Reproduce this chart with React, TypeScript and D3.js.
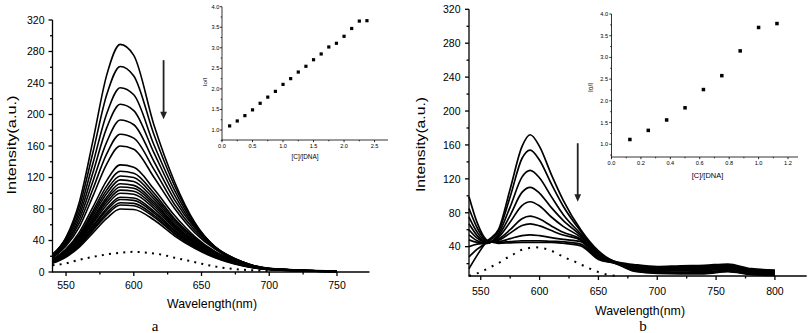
import React from 'react'
import * as d3 from 'd3'

// ---------- panel a : emission spectra, quenched by DNA ----------
const wavelengthsA = [540, 550, 560, 570, 580, 590, 600, 615, 630, 645, 660, 680, 700, 750]
const spectraA = [
  [22, 44, 90, 168, 250, 289, 275, 186, 115, 63, 31, 11, 3.5, 0.5],
  [22, 43, 84, 153, 225, 261, 249, 174, 110, 62, 32, 12, 4, 1],
  [22, 41, 78, 139, 201, 234, 225, 161, 104, 60, 32, 13, 4, 1],
  [21, 39, 73, 127, 183, 213, 205, 151, 98, 58, 32, 13, 4.5, 1],
  [20, 37, 68, 116, 165, 193, 187, 140, 92, 56, 31, 13, 4.5, 1],
  [19, 35, 63, 106, 150, 175, 170, 130, 86, 53, 30, 12.5, 4.6, 1],
  [18, 33, 58, 97, 137, 160, 156, 120, 81, 50, 29, 12, 4.4, 1],
  [16, 29, 51, 83, 116, 136, 133, 105, 72, 45, 26, 11, 4, 1],
  [16, 28, 48, 78, 109, 128, 125.5, 100, 68, 43, 25, 11, 4, 1],
  [15, 27, 46.5, 75, 104, 122, 120, 96, 66, 42, 24.5, 10.7, 4, 1],
  [14.8, 26, 45, 72, 99.6, 117, 115, 92.5, 63.5, 40.5, 23.8, 10.4, 3.9, 0.7],
  [14.3, 25, 43, 69, 95, 112, 110, 89, 61, 39, 23, 10.2, 3.8, 0.7],
  [14, 24.4, 41.9, 66.7, 91.9, 108, 106.4, 86.3, 59.4, 38.2, 22.5, 9.9, 3.7, 0.7],
  [13.5, 23.6, 40.4, 64.4, 88.5, 104, 102.5, 83.5, 57.5, 37, 22, 9.7, 3.6, 0.6],
  [13.1, 22.9, 39.1, 62, 85, 100, 98.7, 80.6, 55.7, 35.9, 21.3, 9.4, 3.5, 0.6],
  [12.7, 22, 37.3, 59, 80.8, 95, 93.9, 77, 53.4, 34.5, 20.5, 9.1, 3.4, 0.6],
  [12.4, 21.4, 36.3, 57.2, 78.2, 92, 91, 74.9, 51.9, 33.6, 20, 8.9, 3.3, 0.6],
  [11.9, 20.6, 34.9, 54.8, 74.8, 88, 87.1, 71.9, 49.9, 32.4, 19.4, 8.6, 3.2, 0.5],
  [11.6, 20, 33.8, 53, 72.2, 85.1, 84.2, 69.7, 48.5, 31.5, 18.8, 8.4, 3.1, 0.5],
  [11, 19, 32, 50, 68, 80, 79.4, 66, 46, 30, 18, 8, 3, 0.5],
]
const dottedWlA = [540, 550, 560, 570, 580, 590, 600, 610, 620, 630, 640, 650, 660, 670, 680, 690, 700]
const dottedA = [8.5, 11, 15.5, 19.3, 22.3, 24.4, 25.6, 24.5, 22.3, 18.2, 14.5, 10.5, 7, 4.5, 3, 2, 1.2]

const ratioXA = [0.125, 0.25, 0.375, 0.5, 0.625, 0.75, 0.875, 1.0, 1.125, 1.25, 1.375, 1.5, 1.625, 1.75, 1.875, 2.0, 2.125, 2.25, 2.375]
const ratioYA = [1.1, 1.22, 1.35, 1.49, 1.65, 1.8, 1.94, 2.11, 2.25, 2.41, 2.55, 2.71, 2.85, 3.02, 3.11, 3.28, 3.47, 3.65, 3.66]

// ---------- panel b ----------
const wavelengthsB = [540, 547, 555, 565, 575, 585, 592, 600, 610, 620, 635, 650, 665, 680, 700, 720, 740, 760, 780, 800]
const spectraB = [
  [14, 30, 46, 60, 108, 158, 172, 158, 125, 95, 60, 35, 22, 19, 16.5, 17.5, 18, 19.5, 14, 12.5],
  [28, 37, 45, 58, 99, 144, 154, 142, 114, 88, 58, 33, 22, 18, 15.5, 16.5, 17, 18.5, 13, 11.5],
  [40, 43, 44, 55, 87, 122, 130, 121, 99, 78, 55, 32, 21.5, 17.5, 15, 15.5, 16, 17.5, 12, 11],
  [48, 45, 44, 53, 77, 104, 110, 103, 86, 71, 53, 31, 21.5, 17, 14, 14.5, 15, 16.5, 11, 10],
  [54, 47, 44, 51, 69, 88.5, 93, 88, 75, 64, 51, 30, 21, 16, 13, 13.5, 14, 15.5, 10.5, 9.5],
  [60, 50, 45, 49, 60, 73, 76, 72.6, 64.5, 57, 49, 29, 21, 15, 12, 12.5, 13, 14.5, 10, 9],
  [67, 53, 45, 47.6, 56, 65, 67, 64.6, 59, 53.7, 47.6, 28, 20.5, 14, 11, 11.5, 12, 13.5, 9.5, 8],
  [75, 57, 46, 46, 49.5, 53, 54, 53, 50.7, 48.5, 46, 27, 20.5, 13, 10, 10, 10.5, 12, 8.5, 7],
  [85, 62, 47, 45, 46, 47, 47, 47, 46.3, 45.8, 43, 26, 20, 12, 9, 9, 9, 11, 7.5, 6.5],
  [99, 68, 48, 44, 44.5, 45, 45, 45, 45, 44, 41, 25, 20, 11, 8.5, 8, 8, 10.5, 7, 6],
]
const dottedWlB = [540, 544, 551, 557, 564, 570, 577, 583, 590, 596, 603, 610, 616, 623, 630, 636, 642, 649, 656, 665]
const dottedB = [5.6, 7.4, 10.5, 15.2, 19.6, 25.1, 30.2, 35.3, 38.1, 39.3, 38.1, 35.3, 31, 26.3, 22.3, 18.4, 14.5, 10.5, 7.4, 5.6]

const ratioXB = [0.125, 0.25, 0.375, 0.5, 0.625, 0.75, 0.875, 1.0, 1.125]
const ratioYB = [1.11, 1.32, 1.56, 1.84, 2.26, 2.58, 3.15, 3.69, 3.78]

// ---------- ticks ----------
const intensityTicksA = [0, 40, 80, 120, 160, 200, 240, 280, 320]
const intensityTicksB = [40, 80, 120, 160, 200, 240, 280, 320]
const intensityMinor = [20, 60, 100, 140, 180, 220, 260, 300]
const wlTicksA = [550, 600, 650, 700, 750]
const wlMinorA = [575, 625, 675, 725]
const wlTicksB = [550, 600, 650, 700, 750, 800]
const wlMinorB = [575, 625, 675, 725, 775]
const ratioTicks = [1.0, 1.5, 2.0, 2.5, 3.0, 3.5, 4.0]
const ratioMinor = [0.75, 1.25, 1.75, 2.25, 2.75, 3.25, 3.75]
const ctTicksA = [0, 0.5, 1.0, 1.5, 2.0, 2.5]
const ctMinorA = [0.25, 0.75, 1.25, 1.75, 2.25]
const ctTicksB = [0, 0.2, 0.4, 0.6, 0.8, 1.0, 1.2]
const ctMinorB = [0.1, 0.3, 0.5, 0.7, 0.9, 1.1]

const FONT = 'Liberation Sans, Arial, Helvetica, sans-serif'

type Scale = d3.ScaleLinear<number, number>

function XAxis({ scale, y, major, minor, len, minorLen, fs, off, sw, fmt }: any) {
  const [r0, r1] = scale.range()
  return (
    <g>
      <line x1={r0} x2={r1} y1={y} y2={y} stroke="#000" strokeWidth={sw} />
      {major.map((t: number) => (
        <g key={'M' + t}>
          <line x1={scale(t)} x2={scale(t)} y1={y} y2={y + len} stroke="#000" strokeWidth={sw} />
          <text x={scale(t)} y={y + off} textAnchor="middle" fontSize={fs} fontFamily={FONT}>
            {fmt(t)}
          </text>
        </g>
      ))}
      {minor.map((t: number) => (
        <line key={'m' + t} x1={scale(t)} x2={scale(t)} y1={y} y2={y + minorLen} stroke="#000" strokeWidth={sw} />
      ))}
    </g>
  )
}

function YAxis({ scale, x, major, minor, len, minorLen, fs, off, sw, fmt }: any) {
  const [r0, r1] = scale.range()
  return (
    <g>
      <line x1={x} x2={x} y1={r0 + sw / 2} y2={r1} stroke="#000" strokeWidth={sw} />
      {major.map((t: number) => (
        <g key={'M' + t}>
          <line x1={x - len} x2={x} y1={scale(t)} y2={scale(t)} stroke="#000" strokeWidth={sw} />
          <text x={x - off} y={scale(t)} dy="0.36em" textAnchor="end" fontSize={fs} fontFamily={FONT}>
            {fmt(t)}
          </text>
        </g>
      ))}
      {minor.map((t: number) => (
        <line key={'m' + t} x1={x - minorLen} x2={x} y1={scale(t)} y2={scale(t)} stroke="#000" strokeWidth={sw} />
      ))}
    </g>
  )
}

function Title({ x, y, text, fs, len, rotate, family }: any) {
  return (
    <text
      transform={`translate(${x},${y})${rotate ? ' rotate(-90)' : ''}`}
      textAnchor="middle"
      fontSize={fs}
      fontFamily={family || FONT}
      textLength={len}
      lengthAdjust={len ? 'spacingAndGlyphs' : undefined}
    >
      {text}
    </text>
  )
}

function Arrow({ x, y1, y2 }: { x: number; y1: number; y2: number }) {
  return (
    <g>
      <line x1={x} x2={x} y1={y1} y2={y2 - 6} stroke="#222" strokeWidth={1.8} />
      <path d={`M${x - 3.4},${y2 - 7.5} L${x + 3.4},${y2 - 7.5} L${x},${y2} Z`} fill="#222" />
    </g>
  )
}

function Inset({ xs, ys, xData, yData, xMajor, xMinor, yOff, xOff, fs, msize, xlab, ylab }: any) {
  const x0 = xs.range()[0]
  const yb = ys.range()[0]
  return (
    <g>
      <XAxis scale={xs} y={yb} major={xMajor} minor={xMinor} len={2.2} minorLen={1.3} fs={fs} off={xOff} sw={0.8} fmt={(d: number) => d.toFixed(1)} />
      <YAxis scale={ys} x={x0} major={ratioTicks} minor={ratioMinor} len={2.2} minorLen={1.3} fs={fs} off={yOff} sw={0.8} fmt={(d: number) => d.toFixed(1)} />
      {xData.map((d: number, i: number) => (
        <rect key={i} x={xs(d) - msize / 2} y={ys(yData[i]) - msize / 2} width={msize} height={msize} fill="#000" />
      ))}
      <Title {...xlab} />
      <Title {...ylab} rotate />
    </g>
  )
}

export default function App() {
  // panel a scales
  const xA: Scale = d3.scaleLinear().domain([540, 774]).range([52.5, 369.5])
  const yA: Scale = d3.scaleLinear().domain([0, 320]).range([272, 20])
  const lineA = d3
    .line<number>()
    .x((_, i) => xA(wavelengthsA[i]))
    .y((d) => yA(d))
    .curve(d3.curveMonotoneX)
  const dotLineA = d3
    .line<number>()
    .x((_, i) => xA(dottedWlA[i]))
    .y((d) => yA(d))
    .curve(d3.curveMonotoneX)

  // panel b scales
  const xB: Scale = d3.scaleLinear().domain([540, 827]).range([469, 806.7])
  const yB: Scale = d3.scaleLinear().domain([5.4, 320]).range([276, 9.3])
  const lineB = d3
    .line<number>()
    .x((_, i) => xB(wavelengthsB[i]))
    .y((d) => yB(d))
    .curve(d3.curveMonotoneX)
  const dotLineB = d3
    .line<number>()
    .x((_, i) => xB(dottedWlB[i]))
    .y((d) => yB(d))
    .curve(d3.curveMonotoneX)

  // insets
  const ixA: Scale = d3.scaleLinear().domain([0, 2.72]).range([222, 388])
  const iyA: Scale = d3.scaleLinear().domain([0.757, 4.0]).range([140, 6.7])
  const ixB: Scale = d3.scaleLinear().domain([0, 1.268]).range([611.5, 798])
  const iyB: Scale = d3.scaleLinear().domain([0.707, 4.0]).range([157, 14])

  return (
    <svg width={808} height={333} style={{ position: 'absolute', left: 0, top: 0, background: '#fff' }}>
      {/* panel a */}
      <g>
        {spectraA.map((s, i) => (
          <path key={i} d={lineA(s) || ''} fill="none" stroke="#000" strokeWidth={1.6} />
        ))}
        <path d={dotLineA(dottedA) || ''} fill="none" stroke="#000" strokeWidth={2} strokeDasharray="2 5.2" />
        <XAxis scale={xA} y={272} major={wlTicksA} minor={wlMinorA} len={4} minorLen={2.5} fs={10.5} off={17} sw={1.3} fmt={(d: number) => d} />
        <YAxis scale={yA} x={52.5} major={intensityTicksA} minor={intensityMinor} len={4} minorLen={2.5} fs={10.5} off={8} sw={1.3} fmt={(d: number) => d} />
        <Title x={16} y={145} text="Intensity(a.u.)" fs={13} len={99} rotate />
        <Title x={212} y={307.5} text="Wavelength(nm)" fs={13} len={90} />
        <Title x={155} y={331} text="a" fs={15} family="Liberation Serif, Times New Roman, serif" />
        <Arrow x={xA(622)} y1={yA(269)} y2={yA(194)} />
        <Inset
          xs={ixA}
          ys={iyA}
          xData={ratioXA}
          yData={ratioYA}
          xMajor={ctTicksA}
          xMinor={ctMinorA}
          yOff={2.6}
          xOff={7.8}
          fs={5.6}
          msize={3.2}
          xlab={{ x: 305, y: 159, text: '[C]/[DNA]', fs: 6.3, len: 27 }}
          ylab={{ x: 207, y: 82, text: 'Io/I', fs: 6.2 }}
        />
      </g>

      {/* panel b */}
      <g>
        {spectraB.map((s, i) => (
          <path key={i} d={lineB(s) || ''} fill="none" stroke="#000" strokeWidth={1.7} />
        ))}
        <path d={dotLineB(dottedB) || ''} fill="none" stroke="#000" strokeWidth={2} strokeDasharray="2 6.2" />
        <XAxis scale={xB} y={276} major={wlTicksB} minor={wlMinorB} len={4} minorLen={2.5} fs={10.5} off={18.5} sw={1.3} fmt={(d: number) => d} />
        <YAxis scale={yB} x={469} major={intensityTicksB} minor={intensityMinor} len={4} minorLen={2.5} fs={10.5} off={8.5} sw={1.3} fmt={(d: number) => d} />
        <Title x={425} y={144.5} text="Intensity(a.u.)" fs={13} len={95} rotate />
        <Title x={640} y={315} text="Wavelength(nm)" fs={13} len={90} />
        <Title x={643} y={331} text="b" fs={15} family="Liberation Serif, Times New Roman, serif" />
        <Arrow x={xB(632.4)} y1={yB(162)} y2={yB(93)} />
        <Inset
          xs={ixB}
          ys={iyB}
          xData={ratioXB}
          yData={ratioYB}
          xMajor={ctTicksB}
          xMinor={ctMinorB}
          yOff={3.5}
          xOff={8.3}
          fs={5.6}
          msize={3.5}
          xlab={{ x: 707.5, y: 177.5, text: '[C]/[DNA]', fs: 7.5, len: 31.5 }}
          ylab={{ x: 592.5, y: 87.5, text: 'Io/I', fs: 6.5 }}
        />
      </g>
    </svg>
  )
}
